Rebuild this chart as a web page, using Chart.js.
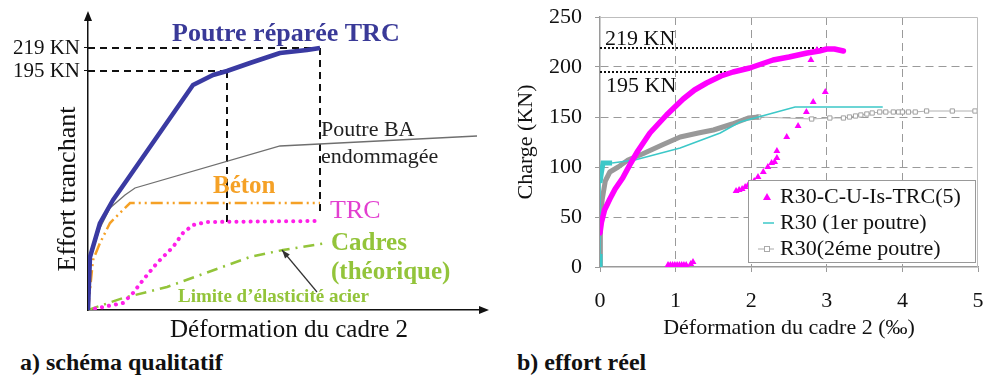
<!DOCTYPE html>
<html>
<head>
<meta charset="utf-8">
<script src="https://cdn.jsdelivr.net/npm/chart.js@4.4.0/dist/chart.umd.min.js"></script>
<style>
  body { margin: 0; background: #fff; width: 983px; height: 376px; position: relative; overflow: hidden; font-family: "Liberation Serif", serif; }
  canvas { position: absolute; top: 0; }
  #schema { left: 0; }
  #effort { left: 500px; }
  .cap { position: absolute; top: 349px; font-weight: bold; font-size: 24px; color: #111; white-space: nowrap; }
</style>
</head>
<body>
<canvas id="schema" width="500" height="345"></canvas>
<canvas id="effort" width="483" height="345"></canvas>
<div class="cap" style="left:20px">a) schéma qualitatif</div>
<div class="cap" style="left:517px">b) effort réel</div>
<script>
// a) schéma qualitatif : unités arbitraires
const schemaTicks = [239, 262]
const schemaTickLabels = ['195 KN', '219 KN']

const reparX = [0, 2, 12, 25, 39, 105, 125, 139, 162, 192, 219, 232]
const reparY = [0, 53, 87, 110, 130, 225, 235, 239, 247, 257, 260, 262]
const baX = [0, 3, 12, 22, 37, 47, 192, 389]
const baY = [0, 55, 82, 102, 115, 122, 164, 174]
const betonX = [0, 5, 12, 22, 42, 232]
const betonY = [0, 50, 67, 87, 107, 107]
const trcX = [0, 35, 45, 55, 69, 85, 95, 105, 119, 230]
const trcY = [0, 7, 17, 30, 47, 63, 77, 85, 88, 89]
const cadresX = [0, 35, 79, 162, 195, 239]
const cadresY = [0, 12, 23, 53, 60, 67]

const guide219X = [0, 232], guide219Y = [262, 262]
const guide195X = [0, 139], guide195Y = [239, 239]
const drop195X = [139, 139], drop195Y = [239, 88]
const drop219X = [232, 232], drop219Y = [262, 95]
const limiteArrowX = [229, 194], limiteArrowY = [18, 60]

// b) effort réel : déformation (‰) / charge (KN)
const trcCurveX = [0, 0.02, 0.06, 0.13, 0.2, 0.3, 0.4, 0.5, 0.66, 0.88, 1.1, 1.25, 1.41, 1.6, 1.76, 1.98, 2.29, 2.5, 2.74, 2.9, 3.0, 3.1, 3.22]
const trcCurveY = [34, 45, 57, 68, 78, 89, 103, 116, 134, 152, 168, 177, 184, 191, 195, 199, 207, 210, 214, 216, 218, 218, 216]
const trcScatX = [0.9, 0.93, 0.96, 0.99, 1.02, 1.05, 1.08, 1.11, 1.14, 1.2, 1.23,
  1.8, 1.84, 1.88, 1.92, 1.96, 2.0, 2.04, 2.09, 2.16, 2.22, 2.27, 2.31, 2.34, 2.34, 2.47, 2.62, 2.73, 2.82, 2.98, 2.79, 2.87]
const trcScatY = [2, 2, 2, 2, 2, 2, 2, 2, 2, 3, 5,
  76, 77, 78, 80, 82, 84, 86, 90, 95, 100, 104, 105, 109, 116, 130, 141, 155, 165, 175, 207, 217]
const r30aX = [0, 0, 0, 0.02, 0.04, 0.16, 0.46, 1.06, 1.59, 1.85, 2.29, 2.58, 3.0, 3.74]
const r30aY = [0, 13, 84, 95, 104, 104, 107, 119, 134, 145, 154, 160, 160, 160]
const r30bX = [0, 0, 0.01, 0.03, 0.07, 0.13, 0.24, 0.37, 0.56, 0.82, 1.06, 1.3, 1.5, 1.75, 1.96, 2.1]
const r30bY = [0, 12, 48, 68, 86, 95, 100, 107, 113, 122, 130, 134, 137, 143, 149, 150]
const r30bTailX = [2.1, 2.8, 3.04, 3.22, 3.3, 3.38, 3.45, 3.53, 3.6, 3.7, 3.78, 3.88, 3.95, 4.0, 4.08, 4.17, 4.32, 4.66, 4.96]
const r30bTailY = [150, 148, 149, 149, 150, 151, 152, 153, 154, 155, 155, 155, 155, 155, 155, 155, 156, 156, 156]
const ref219X = [0, 2.98], ref219Y = [219, 219]
const ref195X = [0, 1.76], ref195Y = [195, 195]
const legendLabels = ['R30-C-U-Is-TRC(5)', 'R30 (1er poutre)', 'R30(2éme poutre)']

const SERIF = '"Liberation Serif", serif'
Chart.defaults.font.family = SERIF
Chart.defaults.color = '#111'

const pts = (xs, ys) => xs.map((x, i) => ({ x, y: ys[i] }))

const line = (xs, ys, color, width, extra) => Object.assign({
  data: pts(xs, ys), borderColor: color, borderWidth: width,
  pointRadius: 0, fill: false, tension: 0
}, extra || {})

const schemaText = [
  { t: 'Poutre réparée TRC', x: 172, y: 34, f: 'bold 26px', c: '#3a3a98' },
  { t: 'Poutre BA', x: 321, y: 130, f: '22px', c: '#222' },
  { t: 'endommagée', x: 321, y: 157, f: '22px', c: '#222' },
  { t: 'Béton', x: 213, y: 187, f: 'bold 25px', c: '#f5a126' },
  { t: 'TRC', x: 330, y: 211, f: '26px', c: '#e23fd0' },
  { t: 'Cadres', x: 331, y: 244, f: 'bold 25px', c: '#93c43a' },
  { t: '(théorique)', x: 331, y: 273, f: 'bold 25px', c: '#93c43a' },
  { t: 'Limite d\u2019élasticité acier', x: 178, y: 297, f: 'bold 19px', c: '#93c43a' },
  { t: 'Déformation du cadre 2', x: 170, y: 330, f: '25px', c: '#111' }
]

const schemaDecor = {
  id: 'schemaDecor',
  afterDraw(chart) {
    const { ctx, chartArea: a, scales: { x, y } } = chart
    ctx.save()
    ctx.fillStyle = '#111'
    // flèches des axes
    ctx.beginPath()
    ctx.moveTo(a.left, a.top - 7); ctx.lineTo(a.left - 4, a.top + 3); ctx.lineTo(a.left + 4, a.top + 3)
    ctx.fill()
    ctx.beginPath()
    ctx.moveTo(a.right + 6, a.bottom); ctx.lineTo(a.right - 4, a.bottom - 4); ctx.lineTo(a.right - 4, a.bottom + 4)
    ctx.fill()
    // flèche limite d'élasticité
    let x0 = x.getPixelForValue(limiteArrowX[0]), y0 = y.getPixelForValue(limiteArrowY[0])
    let x1 = x.getPixelForValue(limiteArrowX[1]), y1 = y.getPixelForValue(limiteArrowY[1])
    ctx.strokeStyle = '#333'
    ctx.lineWidth = 1.2
    ctx.beginPath(); ctx.moveTo(x0, y0); ctx.lineTo(x1, y1); ctx.stroke()
    let ang = Math.atan2(y1 - y0, x1 - x0)
    ctx.fillStyle = '#333'
    ctx.beginPath()
    ctx.moveTo(x1, y1)
    ctx.lineTo(x1 - 9 * Math.cos(ang - 0.35), y1 - 9 * Math.sin(ang - 0.35))
    ctx.lineTo(x1 - 9 * Math.cos(ang + 0.35), y1 - 9 * Math.sin(ang + 0.35))
    ctx.fill()
    // textes
    ctx.textBaseline = 'middle'
    ctx.textAlign = 'left'
    schemaText.forEach(s => {
      ctx.font = s.f + ' ' + SERIF
      ctx.fillStyle = s.c
      ctx.fillText(s.t, s.x, s.y)
    })
    ctx.translate(68, 189)
    ctx.rotate(-Math.PI / 2)
    ctx.textAlign = 'center'
    ctx.font = '26px ' + SERIF
    ctx.fillStyle = '#111'
    ctx.fillText('Effort tranchant', 0, 0)
    ctx.restore()
  }
}

new Chart(document.getElementById('schema'), {
  type: 'line',
  data: {
    datasets: [
      line(reparX, reparY, '#3a3aa2', 4.5, { borderJoinStyle: 'round' }),
      line(baX, baY, '#6f6f6f', 1.3),
      line(betonX, betonY, '#f5a126', 2.5, { borderDash: [12, 4, 2, 4, 2, 4] }),
      line(trcX, trcY, '#ff1fe8', 4, { borderDash: [0.1, 7], borderCapStyle: 'round' }),
      line(cadresX, cadresY, '#93c43a', 2.5, { borderDash: [11, 6, 2, 6] }),
      line(guide219X, guide219Y, '#111', 2, { borderDash: [7, 5] }),
      line(guide195X, guide195Y, '#111', 2, { borderDash: [7, 5] }),
      line(drop195X, drop195Y, '#111', 2, { borderDash: [7, 5] }),
      line(drop219X, drop219Y, '#111', 2, { borderDash: [7, 5] })
    ]
  },
  options: {
    responsive: false, animation: false, devicePixelRatio: 1,
    layout: { padding: { top: 18, right: 17 } },
    plugins: { legend: { display: false }, tooltip: { enabled: false } },
    scales: {
      x: {
        type: 'linear', min: 0, max: 395,
        afterFit: s => { s.height = 35; s.paddingLeft = 0; s.paddingRight = 0 },
        grid: { display: false }, ticks: { display: false },
        border: { color: '#111', width: 1.5 }
      },
      y: {
        type: 'linear', min: 0, max: 292,
        afterFit: s => { s.width = 88; s.paddingTop = 0; s.paddingBottom = 0 },
        afterBuildTicks: s => { s.ticks = schemaTicks.map(v => ({ value: v })) },
        ticks: { callback: (v, i) => schemaTickLabels[i], font: { size: 21 }, padding: 4, color: '#111' },
        grid: { drawOnChartArea: false, tickLength: 4, color: '#111' },
        border: { color: '#111', width: 1.5 }
      }
    }
  },
  plugins: [schemaDecor]
})

const effortDecor = {
  id: 'effortDecor',
  afterDraw(chart) {
    const { ctx, chartArea: a } = chart
    ctx.save()
    ctx.strokeStyle = '#bdbdbd'
    ctx.lineWidth = 1
    ctx.beginPath()
    ctx.moveTo(a.left, a.top + 0.5); ctx.lineTo(a.right - 0.5, a.top + 0.5); ctx.lineTo(a.right - 0.5, a.bottom)
    ctx.stroke()
    ctx.font = '22px ' + SERIF
    ctx.fillStyle = '#111'
    ctx.textBaseline = 'middle'
    ctx.fillText('219 KN', 105, 39)
    ctx.fillText('195 KN', 106, 86)
    // légende dans la zone de tracé
    const lx = 248, ly = 180, lw = 227, lh = 82
    ctx.fillStyle = '#fff'
    ctx.fillRect(lx, ly, lw, lh)
    ctx.strokeStyle = '#999'
    ctx.strokeRect(lx + 0.5, ly + 0.5, lw, lh)
    const rows = [197, 223, 249]
    ctx.fillStyle = '#ff00ff'
    ctx.beginPath()
    ctx.moveTo(267, rows[0] - 4); ctx.lineTo(263, rows[0] + 3); ctx.lineTo(271, rows[0] + 3)
    ctx.fill()
    ctx.strokeStyle = '#3cc8c8'
    ctx.lineWidth = 1.5
    ctx.beginPath(); ctx.moveTo(263, rows[1]); ctx.lineTo(274, rows[1]); ctx.stroke()
    ctx.strokeStyle = '#aaa'
    ctx.lineWidth = 1
    ctx.beginPath(); ctx.moveTo(258, rows[2]); ctx.lineTo(274, rows[2]); ctx.stroke()
    ctx.fillStyle = '#fff'
    ctx.fillRect(264, rows[2] - 3, 6, 6)
    ctx.strokeRect(264.5, rows[2] - 2.5, 5, 5)
    ctx.fillStyle = '#111'
    legendLabels.forEach((t, i) => ctx.fillText(t, 280, rows[i]))
    ctx.restore()
  }
}

const edgeOff = (lo, hi) => c => (c.tick && (c.tick.value === lo || c.tick.value === hi)) ? 'rgba(0,0,0,0)' : '#9a9a9a'

new Chart(document.getElementById('effort'), {
  type: 'line',
  data: {
    datasets: [
      line(trcCurveX, trcCurveY, '#ff00ff', 5.5, { borderJoinStyle: 'round', borderCapStyle: 'round' }),
      line(trcScatX, trcScatY, '#ff00ff', 0, { showLine: false, pointStyle: 'triangle', pointRadius: 4, pointBackgroundColor: '#ff00ff', pointBorderWidth: 0 }),
      line(ref219X, ref219Y, '#111', 2, { borderDash: [2, 2] }),
      line(ref195X, ref195Y, '#111', 2, { borderDash: [2, 2] }),
      line(r30aX, r30aY, '#3cc8c8', 1.5, {
        segment: { borderWidth: c => [0, 2, 3, 4].includes(c.p0DataIndex) ? 5 : 1.5 }
      }),
      line(r30bX, r30bY, '#999', 5, { borderJoinStyle: 'round' }),
      line(r30bTailX, r30bTailY, '#b0b0b0', 1, { pointStyle: 'rect', pointRadius: 3, pointBackgroundColor: '#fff', pointBorderColor: '#a0a0a0', pointBorderWidth: 1 })
    ]
  },
  options: {
    responsive: false, animation: false, devicePixelRatio: 1,
    layout: { padding: { top: 17, right: 5 } },
    plugins: { legend: { display: false }, tooltip: { enabled: false } },
    scales: {
      x: {
        type: 'linear', min: 0, max: 5,
        afterFit: s => { s.height = 78; s.paddingLeft = 0; s.paddingRight = 0 },
        ticks: { stepSize: 1, font: { size: 22 }, padding: 16, color: '#111' },
        grid: { color: edgeOff(0, 5), tickColor: '#9a9a9a', tickLength: 5 },
        border: { color: '#9a9a9a', width: 1.5, dash: [8, 5] },
        title: { display: true, text: 'Déformation du cadre 2 (‰)', font: { size: 22 }, padding: { bottom: 4 }, color: '#111' }
      },
      y: {
        type: 'linear', min: 0, max: 250,
        afterFit: s => { s.width = 100; s.paddingTop = 0; s.paddingBottom = 0 },
        ticks: { stepSize: 50, font: { size: 22 }, padding: 13, color: '#111' },
        grid: { color: edgeOff(0, 250), tickColor: '#9a9a9a', tickLength: 5 },
        border: { color: '#9a9a9a', width: 1.5, dash: [8, 5] },
        title: { display: true, text: 'Charge (KN)', font: { size: 22 }, padding: { top: 13 }, color: '#111' }
      }
    }
  },
  plugins: [effortDecor]
})
</script>
</body>
</html>
